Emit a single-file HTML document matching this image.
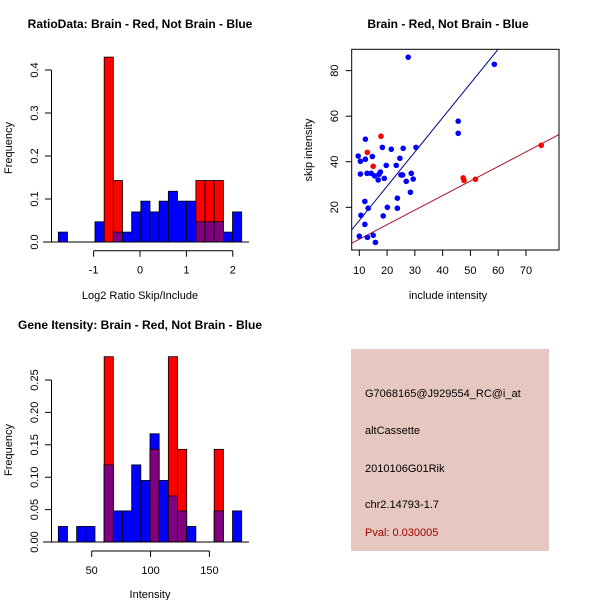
<!DOCTYPE html>
<html><head><meta charset="utf-8"><style>
body{margin:0;background:#fff}
svg{display:block;font-family:"Liberation Sans",sans-serif}
</style></head><body>
<svg id="c" width="600" height="600" viewBox="0 0 600 600">
<rect width="600" height="600" fill="#fff"/>
<text x="140" y="28" text-anchor="middle" font-size="12" font-weight="bold">RatioData: Brain - Red, Not Brain - Blue</text>
<text x="448" y="28" text-anchor="middle" font-size="12" font-weight="bold">Brain - Red, Not Brain - Blue</text>
<text x="140" y="329" text-anchor="middle" font-size="12" font-weight="bold">Gene Itensity: Brain - Red, Not Brain - Blue</text>
<text x="140" y="299" text-anchor="middle" font-size="11">Log2 Ratio Skip/Include</text>
<text x="150" y="598" text-anchor="middle" font-size="11">Intensity</text>
<text x="448" y="299" text-anchor="middle" font-size="11">include intensity</text>
<text transform="translate(12,148) rotate(-90)" text-anchor="middle" font-size="11">Frequency</text>
<text transform="translate(12,450) rotate(-90)" text-anchor="middle" font-size="11">Frequency</text>
<text transform="translate(312,150) rotate(-90)" text-anchor="middle" font-size="11">skip intensity</text>
<g id="g1"></g><g id="g2"></g><g id="g3"></g>
<rect x="351" y="349" width="198" height="202" fill="#e6c8c0"/>
<g font-size="11">
<text x="365" y="397">G7068165@J929554_RC@i_at</text>
<text x="365" y="434">altCassette</text>
<text x="365" y="472">2010106G01Rik</text>
<text x="365" y="508">chr2.14793-1.7</text>
<text x="365" y="536" fill="#a00000">Pval: 0.030005</text>
</g>
</svg>
<script>
const ratioBlue=[0.023,0,0,0,0.047,0,0.023,0.023,0.07,0.095,0.07,0.095,0.118,0.095,0.095,0.047,0.047,0.047,0.023,0.07];
const ratioRed=[0,0,0,0,0,0.43,0.143,0,0,0,0,0,0,0,0,0.143,0.143,0.143,0,0];
const ratioYTicks=["0.0","0.1","0.2","0.3","0.4"];
const ratioXTicks=["-1","0","1","2"];
const intBlue=[0.024,0,0.024,0.024,0,0.119,0.048,0.048,0.119,0.095,0.167,0.095,0.071,0.048,0.024,0,0,0.048,0,0.048];
const intRed=[0,0,0,0,0,0.286,0,0,0,0,0.143,0,0.286,0.143,0,0,0,0.143,0,0];
const intYTicks=["0.00","0.05","0.10","0.15","0.20","0.25"];
const intXTicks=["50","100","150"];
const blueX=[27.6,58.6,45.6,45.6,12.2,9.6,10.4,12.2,10.4,12.8,14.7,14.3,15.5,16.8,17.1,17.6,18.3,19,19.7,21.5,23.3,24.6,25.8,25,25.6,26.9,28.7,29.4,30.4,28.4,23.7,23.7,20.1,18.6,13.2,12,10.6,12,10,12.9,15,15.8];
const blueY=[85.9,82.8,57.8,52.5,49.9,42.5,40.2,41.1,34.6,34.9,42.3,34.9,33.8,32,34.5,35.5,46.3,32.7,38.4,45.5,38.4,41.5,45.9,34.2,34.2,31.4,34.9,32.4,46.3,26.6,24,19.6,20,16.2,19.6,22.6,16.5,12.5,7.3,6.8,7.7,4.6];
const redX=[17.8,12.9,15,47.4,47.7,51.8,75.5];
const redY=[51.2,44.1,38,32.9,31.8,32.3,47.2];
const fitBlue=[-0.83,1.504];
const fitRed=[-0.4,0.639];
const scXTicks=["10","20","30","40","50","60","70"];
const scYTicks=["20","40","60","80"];

const NS="http://www.w3.org/2000/svg";
function mk(p,t,a){const e=document.createElementNS(NS,t);for(const k in a)e.setAttribute(k,a[k]);p.appendChild(e);return e;}

function hist(g,blue,red,ys,yv,yScale,xs,xScale,x0,w,base,axisY,nm){
  blue.forEach((b,i)=>{
    const r=red[i];const xl=x0+i*w;
    if(b>0){const e=mk(g,'rect',{x:xl,y:yScale(b),width:w,height:base-yScale(b),fill:'#0000ff',stroke:'#000','stroke-width':0.8});
      
      }
    if(r>0){const e=mk(g,'rect',{x:xl,y:yScale(r),width:w,height:base-yScale(r),fill:'#ff0000',stroke:'#000','stroke-width':0.8});
      
      
      const m=Math.min(b,r);
      if(m>0){const o=mk(g,'rect',{x:xl,y:yScale(m),width:w,height:base-yScale(m),fill:'#800080',stroke:'#000','stroke-width':0.8});
        
        }}
  });
  mk(g,'line',{x1:43,x2:249,y1:base,y2:base,stroke:'#000'});
  mk(g,'line',{x1:51.5,x2:51.5,y1:yScale(yv[0]),y2:yScale(yv[yv.length-1]),stroke:'#000'});
  yv.forEach((v,i)=>{const y=yScale(v);mk(g,'line',{x1:45,x2:51.5,y1:y,y2:y,stroke:'#000'});
    const t=mk(g,'text',{transform:`translate(38,${y}) rotate(-90)`,'text-anchor':'middle','font-size':11});t.textContent=ys[i];
    
    });
  const xv=xs.map(Number);
  mk(g,'line',{x1:xScale(xv[0]),x2:xScale(xv[xv.length-1]),y1:axisY,y2:axisY,stroke:'#000'});
  xv.forEach((v,i)=>{const x=xScale(v);mk(g,'line',{x1:x,x2:x,y1:axisY,y2:axisY+6,stroke:'#000'});
    const t=mk(g,'text',{x:x,y:axisY+23,'text-anchor':'middle','font-size':11});t.textContent=xs[i];
    
    });
}
hist(document.getElementById('g1'),ratioBlue,ratioRed,ratioYTicks,ratioYTicks.map(Number),v=>242-430*v,ratioXTicks,v=>140+46.4*v,58.3,9.17,242,250.7,'ratio');
hist(document.getElementById('g2'),intBlue,intRed,intYTicks,intYTicks.map(Number),v=>542-648*v,intXTicks,v=>91.7+1.177*(v-50),58.3,9.17,542,551,'intensity');

const g3=document.getElementById('g3');
const sx=v=>359.3+2.778*(v-10), sy=v=>207.3-2.278*(v-20);
mk(g3,'clipPath',{id:'clp'}).appendChild(document.createElementNS(NS,'rect'));
const cr=g3.querySelector('#clp rect');cr.setAttribute('x',351.7);cr.setAttribute('y',49.3);cr.setAttribute('width',207.3);cr.setAttribute('height',200.7);
const lb=mk(g3,'line',{x1:sx(0),y1:sy(fitBlue[0]),x2:sx(90),y2:sy(fitBlue[0]+fitBlue[1]*90),stroke:'#00008b','clip-path':'url(#clp)'});


const lr=mk(g3,'line',{x1:sx(0),y1:sy(fitRed[0]),x2:sx(90),y2:sy(fitRed[0]+fitRed[1]*90),stroke:'#b0102a','clip-path':'url(#clp)'});


blueX.forEach((x,i)=>{const c=mk(g3,'circle',{cx:sx(x),cy:sy(blueY[i]),r:2.8,fill:'#0000ff'});
  
  });
redX.forEach((x,i)=>{const c=mk(g3,'circle',{cx:sx(x),cy:sy(redY[i]),r:2.8,fill:'#ff0000'});
  
  });
const box=mk(g3,'rect',{x:351.7,y:49.3,width:207.3,height:200.7,fill:'none',stroke:'#000'});


scXTicks.forEach(s=>{const x=sx(+s);mk(g3,'line',{x1:x,x2:x,y1:250,y2:256,stroke:'#000'});
  const t=mk(g3,'text',{x:x,y:274,'text-anchor':'middle','font-size':11});t.textContent=s;
  
  });
scYTicks.forEach(s=>{const y=sy(+s);mk(g3,'line',{x1:345.7,x2:351.7,y1:y,y2:y,stroke:'#000'});
  const t=mk(g3,'text',{transform:`translate(338,${y}) rotate(-90)`,'text-anchor':'middle','font-size':11});t.textContent=s;
  
  });
</script>
</body></html>
